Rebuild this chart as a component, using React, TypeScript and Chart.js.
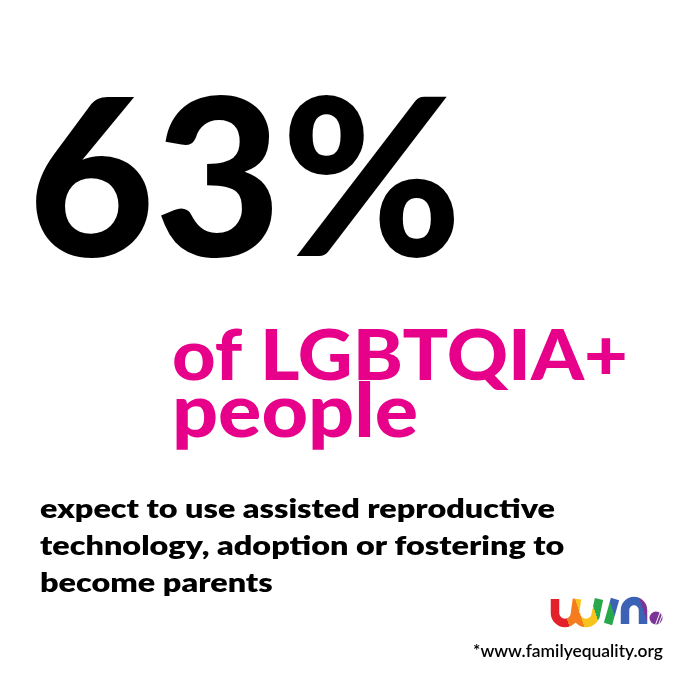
import React, { useEffect, useRef } from 'react';
import { Chart, registerables } from 'chart.js';

Chart.register(...registerables);

// headline figure
const shareValues = [63];
const shareUnits = ['%'];
// pink subject lines
const subjectLines = ['of LGBTQIA+', 'people'];
// body copy
const bodyLines = [
  'expect to use assisted reproductive',
  'technology, adoption or fostering to',
  'become parents',
];
const sourceNotes = ['*www.familyequality.org'];
const logoColors = ['#e4202a', '#f47b20', '#f7c31c', '#27a84a', '#3b62b5', '#7a3596'];

const HEAVY = '"Lato", "Inter", "DejaVu Sans", sans-serif';

// size text by the height of one glyph, then stretch it to the width
const fitText = (
  ctx: CanvasRenderingContext2D,
  text: string,
  weight: number,
  glyph: string,
  glyphHeight: number,
  width: number,
) => {
  ctx.font = `${weight} 100px ${HEAVY}`;
  const ratio = ctx.measureText(glyph).actualBoundingBoxAscent / 100;
  const size = glyphHeight / ratio;
  ctx.font = `${weight} ${size}px ${HEAVY}`;
  const sx = width / ctx.measureText(text).width;
  return { font: ctx.font, sx };
};

const drawText = (ctx: CanvasRenderingContext2D, text: string, fit: { font: string; sx: number }, x: number, y: number) => {
  ctx.save();
  ctx.font = fit.font;
  ctx.translate(x, y);
  ctx.scale(fit.sx, 1);
  ctx.fillText(text, 0, 0);
  ctx.restore();
};

const drawLogo = (ctx: CanvasRenderingContext2D) => {
  ctx.save();
  const grad = ctx.createLinearGradient(548, 630, 650, 596);
  const stops = [0, 0.2, 0.33, 0.47, 0.63, 0.9, 1];
  logoColors.forEach((c, i) => {
    grad.addColorStop(stops[i], c);
    grad.addColorStop(stops[i + 1] - 0.001, c);
  });
  ctx.strokeStyle = grad;
  ctx.lineWidth = 8.5;
  ctx.lineCap = 'butt';
  ctx.lineJoin = 'round';
  // w
  ctx.beginPath();
  ctx.moveTo(555, 599);
  ctx.lineTo(555, 613);
  ctx.arc(565, 613, 10, Math.PI, 0, true);
  ctx.lineTo(577, 599);
  ctx.moveTo(576, 613);
  ctx.arc(586, 613, 10, Math.PI, 0, true);
  ctx.lineTo(599, 599);
  ctx.stroke();
  // i
  ctx.beginPath();
  ctx.moveTo(608, 624);
  ctx.lineTo(615, 599);
  ctx.stroke();
  // n
  ctx.beginPath();
  ctx.moveTo(625, 624);
  ctx.lineTo(625, 610);
  ctx.arc(634, 610, 9, Math.PI, 0);
  ctx.lineTo(643, 624);
  ctx.stroke();
  // dot
  ctx.beginPath();
  ctx.arc(656, 618, 6.5, 0, Math.PI * 2);
  ctx.fillStyle = '#7a3596';
  ctx.fill();
  ctx.clip();
  ctx.strokeStyle = '#fff';
  ctx.lineWidth = 1;
  for (let k = 0; k < 3; k++) {
    ctx.beginPath();
    ctx.moveTo(655 + k * 3, 626);
    ctx.lineTo(661 + k * 3, 610);
    ctx.stroke();
  }
  ctx.restore();
};

const posterText = {
  id: 'posterText',
  afterDraw(chart: any) {
    const { ctx } = chart;
    ctx.save();
    ctx.textBaseline = 'alphabetic';
    ctx.textAlign = 'left';

    // 63%
    ctx.fillStyle = '#000';
    const headline = `${shareValues[0]}${shareUnits[0]}`;
    drawText(ctx, headline, fitText(ctx, headline, 900, '3', 160, 434), 28, 256);

    // pink lines
    ctx.fillStyle = '#e6008a';
    drawText(ctx, subjectLines[0], fitText(ctx, subjectLines[0], 900, 'L', 51, 456), 172, 380);
    drawText(ctx, subjectLines[1], fitText(ctx, subjectLines[1], 900, 'x', 39, 246), 172, 437);

    // body
    ctx.fillStyle = '#000';
    const body = fitText(ctx, bodyLines[0], 800, 'x', 13.5, 515);
    bodyLines.forEach((line, i) => drawText(ctx, line, body, 40, 518 + i * 37));

    // source
    const src = fitText(ctx, sourceNotes[0], 600, 'x', 9, 190);
    drawText(ctx, sourceNotes[0], src, 473, 657);

    drawLogo(ctx);
    ctx.restore();
  },
};

const App = () => {
  const chartRef = useRef<HTMLCanvasElement>(null);

  useEffect(() => {
    document.body.style.margin = '0';
    const chart = new Chart(chartRef.current!, {
      type: 'bar',
      data: {
        labels: [''],
        datasets: [],
      },
      options: {
        animation: false,
        responsive: false,
        events: [],
        scales: {
          x: { display: false },
          y: { display: false },
        },
        plugins: {
          legend: { display: false },
          tooltip: { enabled: false },
        },
      },
      plugins: [posterText],
    });

    return () => chart.destroy();
  }, []);

  return (
    <div style={{ width: 680, height: 680, background: '#fff' }}>
      <canvas ref={chartRef} width={680} height={680} />
    </div>
  );
};

export default App;
